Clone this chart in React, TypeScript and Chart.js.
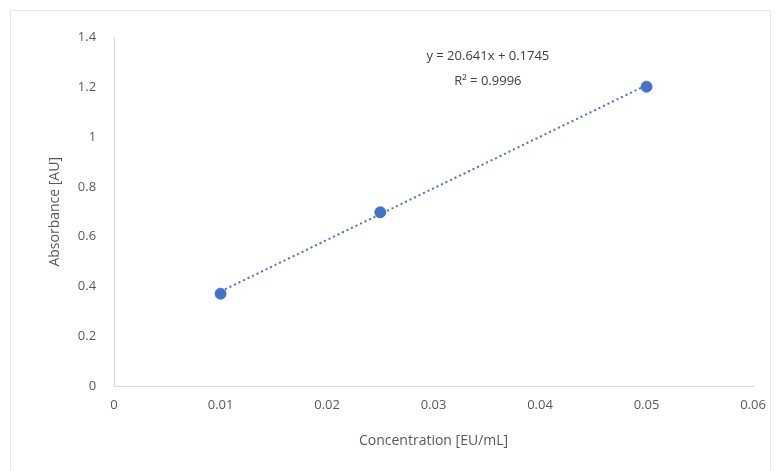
import { useEffect, useRef } from 'react';
import { Chart, registerables } from 'chart.js';

Chart.register(...registerables);

const concentration = [0.01, 0.025, 0.05];
const absorbance = [0.372, 0.698, 1.201];
const trendX = [0.01, 0.05];
const trendY = [0.381, 1.207];
const equationLines = ['y = 20.641x + 0.1745', 'R² = 0.9996'];

const FONT = '"Open Sans", "Liberation Sans", sans-serif';

const equationLabel = {
  id: 'equationLabel',
  afterDatasetsDraw(chart: Chart) {
    const { ctx, scales } = chart;
    const x = scales.x.getPixelForValue(0.0351);
    ctx.save();
    ctx.fillStyle = '#404040';
    ctx.font = `13px ${FONT}`;
    ctx.textAlign = 'center';
    ctx.textBaseline = 'middle';
    ctx.fillText(equationLines[0], x, scales.y.getPixelForValue(1.323));
    ctx.fillText(equationLines[1], x, scales.y.getPixelForValue(1.222));
    ctx.restore();
  },
};

export default function App() {
  const canvasRef = useRef<HTMLCanvasElement>(null);

  useEffect(() => {
    document.body.style.margin = '0';
    const chart = new Chart(canvasRef.current!, {
      type: 'scatter',
      data: {
        datasets: [
          {
            data: concentration.map((x, i) => ({ x, y: absorbance[i] })),
            backgroundColor: '#4472c4',
            borderColor: '#4472c4',
            pointRadius: 5.5,
            order: 1,
          },
          {
            type: 'line',
            data: trendX.map((x, i) => ({ x, y: trendY[i] })),
            borderColor: '#4472c4',
            borderWidth: 2,
            borderDash: [2, 3],
            pointRadius: 0,
            order: 2,
          },
        ],
      },
      options: {
        animation: false,
        responsive: false,
        layout: { padding: { left: 43, right: 24, top: 37, bottom: 22 } },
        plugins: { legend: { display: false }, tooltip: { enabled: false } },
        scales: {
          x: {
            type: 'linear',
            min: 0,
            max: 0.06,
            ticks: { stepSize: 0.01, color: '#595959', font: { family: FONT, size: 13 } },
            grid: { display: false },
            border: { color: '#d9d9d9' },
            title: {
              display: true,
              text: 'Concentration [EU/mL]',
              color: '#595959',
              padding: { top: 16, bottom: 0 },
              font: { family: FONT, size: 14 },
            },
          },
          y: {
            min: 0,
            max: 1.4,
            ticks: {
              stepSize: 0.2,
              color: '#595959',
              padding: 10,
              font: { family: FONT, size: 13 },
              callback: (v) => String(Math.round(Number(v) * 10) / 10),
            },
            grid: { display: false },
            border: { color: '#d9d9d9' },
            title: { display: true, text: 'Absorbance [AU]', color: '#595959', font: { family: FONT, size: 14 } },
          },
        },
      },
      plugins: [equationLabel],
    });
    return () => chart.destroy();
  }, []);

  return (
    <div style={{ width: 777, height: 471, background: '#fff', position: 'relative' }}>
      <div style={{ position: 'absolute', left: 10, top: 10, right: 6, bottom: 0, border: '1px solid #e6e6e6', borderBottom: 'none' }} />
      <canvas ref={canvasRef} width={777} height={471} style={{ position: 'absolute', left: 0, top: 0 }} />
    </div>
  );
}
